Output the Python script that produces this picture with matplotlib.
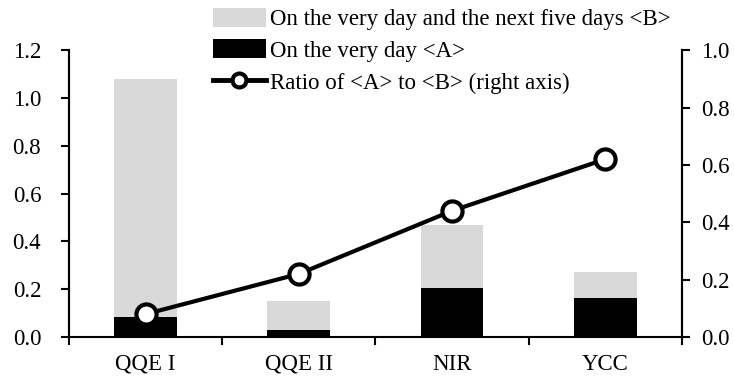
"""Stacked-overlap bars (left axis) with a ratio line on the right axis."""

import matplotlib

matplotlib.use("Agg")

import matplotlib.pyplot as plt  # noqa: E402
import numpy as np  # noqa: E402
from matplotlib.lines import Line2D  # noqa: E402
from matplotlib.patches import Patch  # noqa: E402

categories = ["QQE I", "QQE II", "NIR", "YCC"]
five_days_b = [1.078, 0.152, 0.47, 0.273]
very_day_a = [0.085, 0.029, 0.204, 0.164]
ratio_a_to_b = [0.08, 0.22, 0.44, 0.62]

label_b = "On the very day and the next five days <B>"
label_a = "On the very day <A>"
label_ratio = "Ratio of <A> to <B> (right axis)"

GREY = "#d9d9d9"

plt.rcParams["font.family"] = ["Liberation Serif", "DejaVu Serif"]
plt.rcParams["font.size"] = 16.5

fig = plt.figure(figsize=(7.34, 3.83), dpi=100)
ax = fig.add_axes([0.094, 0.12, 0.835, 0.749])
ax2 = ax.twinx()

x = np.arange(len(categories))
width = 0.41
ax.bar(x, five_days_b, width=width, color=GREY, zorder=2)
ax.bar(x, very_day_a, width=width, color="black", zorder=3)

ax2.plot(x, ratio_a_to_b, color="black", lw=3, marker="o", ms=14.5,
         mfc="white", mec="black", mew=3, zorder=4)

ax.set_xlim(-0.5, len(categories) - 0.5)
ax.set_ylim(0, 1.2)
ax2.set_ylim(0, 1.0)
ax.set_yticks(np.arange(0, 1.21, 0.2))
ax2.set_yticks(np.arange(0, 1.01, 0.2))
ax.yaxis.set_major_formatter(matplotlib.ticker.FormatStrFormatter("%.1f"))
ax2.yaxis.set_major_formatter(matplotlib.ticker.FormatStrFormatter("%.1f"))

# категории по центрам, засечки — на границах
ax.set_xticks(x, labels=categories)
ax.set_xticks(np.arange(-0.5, len(categories)), minor=True)
ax.tick_params(axis="x", which="major", length=0, pad=12)
ax.tick_params(axis="x", which="minor", length=6, width=1.5, direction="out")
ax.tick_params(axis="y", length=6, width=1.5, direction="out", pad=14)
ax2.tick_params(axis="y", length=6, width=1.5, direction="out", pad=8)

for a in (ax, ax2):
    a.spines["top"].set_visible(False)
    for side in ("left", "right", "bottom"):
        a.spines[side].set_linewidth(1.5)
ax2.spines["bottom"].set_visible(False)
ax.set_zorder(ax2.get_zorder() - 1)
ax.patch.set_visible(False)

handles = [
    Patch(facecolor=GREY, edgecolor="none"),
    Patch(facecolor="black", edgecolor="none"),
    Line2D([], [], color="black", lw=3.5, marker="o", ms=10,
           mfc="white", mec="black", mew=3),
]
fig.legend(handles, [label_b, label_a, label_ratio], loc="upper left",
           bbox_to_anchor=(0.290, 0.98), frameon=False, handlelength=2.3,
           handletextpad=0.18, labelspacing=0.41, borderaxespad=0,
           borderpad=0, handleheight=0.9)

fig.savefig("out.png", dpi=100)
